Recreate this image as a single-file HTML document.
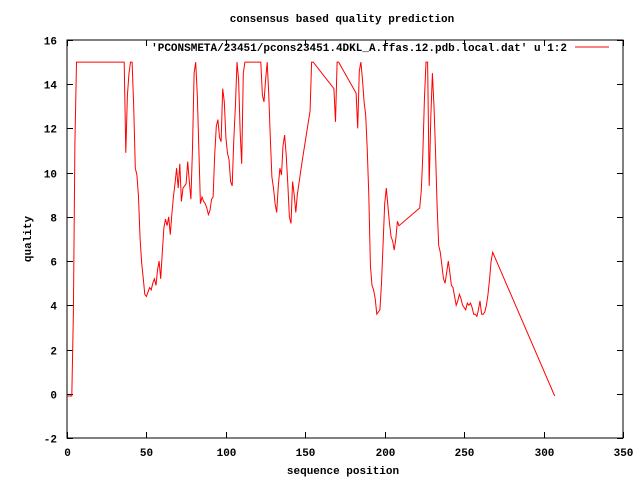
<!DOCTYPE html>
<html><head><meta charset="utf-8"><style>
body{margin:0;background:#fff}
svg text{font-family:"Liberation Mono",monospace;font-size:11px;font-weight:bold;fill:#000}
</style></head><body>
<svg id="chart" width="640" height="480" xmlns="http://www.w3.org/2000/svg">
<rect width="640" height="480" fill="#fff"/>
<text x="342" y="22" text-anchor="middle">consensus based quality prediction</text>
<g id="axes"></g>
<text transform="translate(31,239) rotate(-90)" text-anchor="middle">quality</text>
<text x="343" y="474" text-anchor="middle">sequence position</text>
<text x="567" y="51" text-anchor="end">'PCONSMETA/23451/pcons23451.4DKL_A.ffas.12.pdb.local.dat' u 1:2</text>
<line x1="575" y1="47" x2="609" y2="47" stroke="#f00" stroke-width="1"/>
<g id="series"></g>
</svg>
<script>
const positions=[0,3,4,5,6,36,37,38,39,40,41,42,43,44,45,46,47,48,49,50,51,52,53,54,55,56,57,58,59,60,61,62,63,64,65,66,67,68,69,70,71,72,73,74,75,76,77,78,79,80,81,82,83,84,85,86,87,88,89,90,91,92,93,94,95,96,97,98,99,100,101,102,103,104,105,106,107,108,109,110,111,112,113,122,123,124,125,126,127,128,129,130,131,132,133,134,135,136,137,138,139,140,141,142,143,144,145,146,147,148,153,154,155,168,169,170,171,182,183,184,185,186,187,188,189,190,191,192,193,194,195,196,197,198,199,200,201,202,203,204,205,206,207,208,209,222,223,224,225,226,227,228,229,230,231,232,233,234,235,236,237,238,239,240,241,242,243,244,245,246,247,248,249,250,251,252,253,254,255,256,257,258,259,260,261,262,263,264,265,266,267,268,307];
const quality=[-0.1,-0.1,3.7,11.3,15,15,10.9,13.5,14.5,15,15,13,10.2,9.9,8.9,7.0,5.9,5.2,4.5,4.4,4.6,4.8,4.7,5.0,5.2,4.9,5.6,6.0,5.2,6.4,7.5,7.9,7.6,8.0,7.2,8.1,8.9,9.5,10.2,9.3,10.4,8.7,9.3,9.4,9.5,10.5,9.6,8.8,11.1,14.5,15,13.5,11,8.6,8.9,8.7,8.6,8.4,8.1,8.3,8.8,8.9,10.8,12.1,12.4,11.6,11.4,13.8,13.2,11.6,10.9,10.6,9.6,9.4,11.5,13.0,15,14.2,11.8,10.4,14.5,15,15,15,13.5,13.2,14.2,15,13.6,11.6,9.8,9.3,8.6,8.2,9.4,10.2,9.9,11.2,11.7,10.8,9.5,8.0,7.7,9.6,9.0,8.2,9.0,9.5,10.0,10.5,12.8,15,15,13.8,12.3,15,15,13.6,12,14.6,15,14.2,13.2,12.6,11.1,9.0,5.8,4.9,4.7,4.3,3.6,3.7,3.8,5.0,6.8,8.6,9.3,8.5,7.7,7.1,6.9,6.5,7.0,7.8,7.6,8.4,9.2,10.8,13.3,15,15,9.4,12.5,14.5,13.0,11.0,8.5,6.7,6.4,5.8,5.2,5.0,5.5,6.0,5.5,4.9,4.8,4.4,4.0,4.2,4.5,4.3,4.0,3.9,3.8,4.1,4.0,4.1,3.9,3.6,3.6,3.5,3.8,4.2,3.6,3.6,3.7,4.0,4.5,5.2,6.0,6.4,-0.1,-0.1];
const xTicks=[0,50,100,150,200,250,300,350];
const yTicks=[-2,0,2,4,6,8,10,12,14,16];
const L=67,R=623,T=40,B=438;
const xs=v=>L+(v-0)/350*(R-L);
const ys=v=>B-(v+2)/18*(B-T);
const NS="http://www.w3.org/2000/svg";
const ax=document.getElementById('axes');
function mk(tag,attrs,parent){const e=document.createElementNS(NS,tag);for(const k in attrs)e.setAttribute(k,attrs[k]);parent.appendChild(e);return e;}
const frame=mk('rect',{x:L,y:T,width:R-L,height:B-T,fill:'none',stroke:'#000','stroke-width':1},ax);


yTicks.forEach(v=>{const y=Math.round(ys(v))+0.5;
 const t=mk('path',{d:`M${L} ${y}h6M${R} ${y}h-6`,stroke:'#000'},ax);
 
 
 const tx=mk('text',{x:L-10,y:y+4,'text-anchor':'end'},ax);tx.textContent=v;
 
 });
xTicks.forEach(v=>{const x=Math.round(xs(v))+0.5;
 const t=mk('path',{d:`M${x} ${B}v-6M${x} ${T}v6`,stroke:'#000'},ax);
 
 
 const tx=mk('text',{x:x,y:B+18,'text-anchor':'middle'},ax);tx.textContent=v;
 
 });
const d=positions.map((p,i)=>(i?'L':'M')+xs(p).toFixed(1)+' '+ys(quality[i]).toFixed(1)).join('');
const line=mk('path',{d:d,fill:'none',stroke:'#f00','stroke-width':1},document.getElementById('series'));


</script>
</body></html>
